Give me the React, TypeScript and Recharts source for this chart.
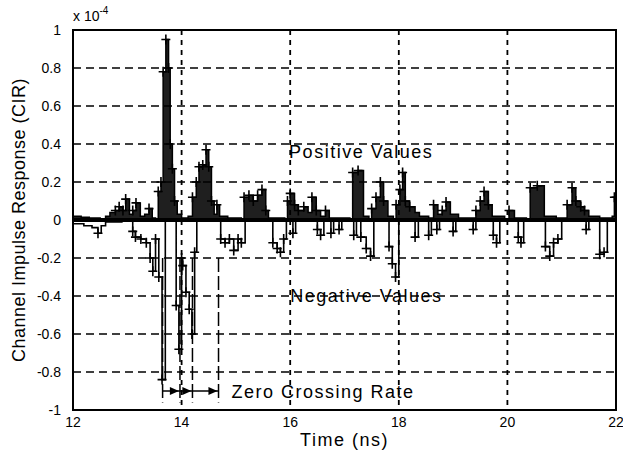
import React from "react";
import {
  ComposedChart,
  Area,
  Line,
  Scatter,
  XAxis,
  YAxis,
  CartesianGrid,
  ReferenceLine,
  ReferenceArea,
  ReferenceDot,
  Label,
} from "recharts";

const FONT = "'Liberation Sans', Arial, sans-serif";

const timeTicks = [12, 14, 16, 18, 20, 22];
const cirTicks = [-1, -0.8, -0.6, -0.4, -0.2, 0, 0.2, 0.4, 0.6, 0.8, 1];

// positive part of the CIR: [time (ns), value (x1e-4)]
const positivePart: [number, number][] = [
  [12.0, 0.02], [12.15, 0.015], [12.3, 0.01], [12.5, 0.005], [12.6, 0.02], [12.68, 0.04],
  [12.78, 0.05], [12.85, 0.07], [12.92, 0.05], [12.97, 0.11], [13.04, 0.03], [13.1, 0.05],
  [13.16, 0.09], [13.24, 0.02], [13.32, 0.03], [13.4, 0.06], [13.46, 0.01], [13.52, 0.0],
  [13.57, 0.15], [13.62, 0.2], [13.66, 0.78], [13.71, 0.95], [13.76, 0.8], [13.79, 0.4],
  [13.83, 0.27], [13.87, 0.1], [13.92, 0.03], [14.0, 0.01], [14.12, 0.02], [14.2, 0.12],
  [14.27, 0.2], [14.32, 0.28], [14.39, 0.29], [14.45, 0.37], [14.5, 0.28], [14.55, 0.1],
  [14.6, 0.03], [14.65, 0.08], [14.7, 0.02], [14.85, 0.01], [15.0, 0.01], [15.1, 0.0],
  [15.15, 0.12], [15.24, 0.13], [15.32, 0.1], [15.4, 0.13], [15.48, 0.16], [15.55, 0.05],
  [15.6, 0.01], [15.9, 0.0], [15.95, 0.1], [16.0, 0.14], [16.08, 0.08], [16.15, 0.05],
  [16.25, 0.07], [16.33, 0.04], [16.4, 0.12], [16.48, 0.05], [16.56, 0.02], [16.65, 0.05],
  [16.72, 0.01], [17.1, 0.0], [17.15, 0.25], [17.25, 0.26], [17.35, 0.02], [17.45, 0.0],
  [17.5, 0.06], [17.58, 0.12], [17.66, 0.2], [17.72, 0.1], [17.8, 0.02], [17.9, 0.0],
  [17.95, 0.08], [18.02, 0.16], [18.07, 0.25], [18.12, 0.1], [18.2, 0.07], [18.3, 0.04],
  [18.38, 0.02], [18.55, 0.01], [18.64, 0.08], [18.72, 0.03], [18.8, 0.05], [18.87, 0.095],
  [18.95, 0.03], [19.1, 0.01], [19.3, 0.01], [19.42, 0.05], [19.5, 0.1], [19.57, 0.15],
  [19.65, 0.08], [19.72, 0.02], [19.95, 0.0], [20.03, 0.05], [20.13, 0.01], [20.35, 0.0],
  [20.42, 0.17], [20.55, 0.18], [20.68, 0.02], [20.9, 0.01], [21.1, 0.08], [21.19, 0.17],
  [21.26, 0.1], [21.35, 0.07], [21.42, 0.05], [21.5, 0.02], [21.7, 0.01], [21.93, 0.02],
  [21.97, 0.12], [22.0, 0.12],
];

// negative part of the CIR
const negativePart: [number, number][] = [
  [12.0, -0.02], [12.2, -0.03], [12.35, -0.04], [12.46, -0.07], [12.52, -0.03], [12.6, -0.01],
  [12.9, 0.0], [13.1, -0.06], [13.15, -0.09], [13.25, -0.1], [13.35, -0.12], [13.42, -0.2],
  [13.47, -0.27], [13.52, -0.1], [13.58, -0.3], [13.64, -0.84], [13.7, 0.0], [13.9, -0.45],
  [13.95, -0.68], [14.0, -0.2], [14.02, -0.24], [14.08, -0.38], [14.14, -0.47], [14.19, -0.6],
  [14.24, -0.17], [14.28, 0.0], [14.72, -0.1], [14.8, -0.12], [14.88, -0.1], [14.96, -0.16],
  [15.04, -0.1], [15.1, -0.12], [15.17, 0.0], [15.68, -0.12], [15.76, -0.15], [15.82, -0.17],
  [15.88, -0.1], [15.93, 0.0], [16.05, -0.07], [16.1, 0.0], [16.5, -0.05], [16.56, -0.08],
  [16.62, 0.0], [16.75, -0.07], [16.8, 0.0], [16.9, -0.05], [16.95, 0.0], [17.17, -0.08],
  [17.22, 0.0], [17.3, -0.09], [17.4, -0.15], [17.48, -0.19], [17.54, 0.0], [17.82, -0.14],
  [17.88, -0.23], [17.94, -0.3], [18.0, 0.0], [18.3, -0.09], [18.36, 0.0], [18.55, -0.08],
  [18.6, 0.0], [18.7, -0.05], [18.75, 0.0], [19.0, -0.06], [19.05, 0.0], [19.37, -0.05],
  [19.42, 0.0], [19.74, -0.08], [19.8, -0.12], [19.86, 0.0], [20.2, -0.09], [20.25, -0.12],
  [20.3, 0.0], [20.7, -0.14], [20.78, -0.19], [20.85, -0.12], [20.93, -0.1], [21.0, 0.0],
  [21.45, -0.05], [21.5, 0.0], [21.7, -0.18], [21.78, -0.17], [21.84, 0.0], [22.0, 0.0],
];

// boundaries of the zero crossing intervals (ns)
const crossingTimes = [13.65, 13.97, 14.2, 14.68];

const posData = positivePart.map(([t, v]) => ({ t, v }));
const negData = negativePart.map(([t, v]) => ({ t, v }));
const markers = [...posData, ...negData].filter((d) => Math.abs(d.v) >= 0.05);

const PlusMark = (props: any) => {
  const { cx, cy } = props;
  if (cx == null || cy == null) return null;
  return (
    <path
      d={`M${cx - 4.5},${cy}H${cx + 4.5}M${cx},${cy - 5}V${cy + 5}`}
      stroke="#000"
      strokeWidth={1.6}
    />
  );
};

const textAt = (value: string) => (p: any) => (
  <text
    x={p.cx}
    y={p.cy}
    dominantBaseline="central"
    fontFamily={FONT}
    fontSize={18}
    letterSpacing={1.5}
    fill="#000"
  >
    {value}
  </text>
);

const arrowHead = (p: any) => (
  <path d={`M${p.cx - 9},${p.cy - 4}L${p.cx},${p.cy}L${p.cx - 9},${p.cy + 4}Z`} fill="#000" />
);

export default function App() {
  return (
    <div style={{ position: "absolute", left: 0, top: 0, width: 623, height: 451, background: "#fff" }}>
      <ComposedChart width={623} height={451} margin={{ top: 30, right: 7, left: 0, bottom: 0 }}>
        <CartesianGrid vertical={false} stroke="#000" strokeWidth={1.5} strokeDasharray="8 5" />
        <CartesianGrid horizontal={false} stroke="#000" strokeWidth={1.8} strokeDasharray="5 5" />
        <XAxis
          type="number"
          dataKey="t"
          domain={[12, 22]}
          ticks={timeTicks}
          allowDataOverflow
          axisLine={false}
          tickLine={false}
          tickSize={0}
          tickMargin={7}
          height={41}
          tick={{ fill: "#000", fontSize: 14, fontFamily: FONT }}
        >
          <Label
            content={({ viewBox }: any) => (
              <text
                x={viewBox.x + viewBox.width / 2}
                y={viewBox.y + 30}
                textAnchor="middle"
                dominantBaseline="central"
                fontFamily={FONT}
                fontSize={18}
                letterSpacing={1.5}
                fill="#000"
              >
                Time (ns)
              </text>
            )}
          />
        </XAxis>
        <YAxis
          type="number"
          domain={[-1, 1]}
          ticks={cirTicks}
          allowDataOverflow
          axisLine={false}
          tickLine={false}
          tickSize={0}
          tickMargin={12}
          width={73}
          tickFormatter={(v: number) => String(v)}
          tick={{ fill: "#000", fontSize: 14, fontFamily: FONT }}
        >
          <Label
            content={({ viewBox }: any) => (
              <g>
                <text
                  transform={`translate(${viewBox.x + 19},${viewBox.y + viewBox.height / 2}) rotate(-90)`}
                  textAnchor="middle"
                  dominantBaseline="central"
                  fontFamily={FONT}
                  fontSize={18}
                  letterSpacing={0.5}
                  fill="#000"
                >
                  Channel Impulse Response (CIR)
                </text>
                <text x={viewBox.x + 73} y={viewBox.y - 9} fontFamily={FONT} fontSize={14} fill="#000">
                  x 10
                  <tspan dy={-7} fontSize={10}>-4</tspan>
                </text>
              </g>
            )}
          />
        </YAxis>

        <Area
          data={posData}
          dataKey="v"
          type="stepAfter"
          stroke="#000"
          strokeWidth={1.5}
          fill="#000"
          fillOpacity={0.88}
          dot={false}
          activeDot={false}
          isAnimationActive={false}
        />
        <Line
          data={negData}
          dataKey="v"
          type="stepAfter"
          stroke="#000"
          strokeWidth={1.6}
          dot={false}
          activeDot={false}
          isAnimationActive={false}
        />
        <Scatter data={markers} dataKey="v" shape={<PlusMark />} isAnimationActive={false} />

        <ReferenceLine y={0} stroke="#000" strokeWidth={4} />
        {crossingTimes.map((t) => (
          <ReferenceLine
            key={t}
            segment={[{ x: t, y: -0.2 }, { x: t, y: -0.96 }]}
            stroke="#000"
            strokeWidth={1.5}
            strokeDasharray="14 4"
          />
        ))}
        <ReferenceLine
          segment={[{ x: crossingTimes[0], y: -0.9 }, { x: crossingTimes[3], y: -0.9 }]}
          stroke="#000"
          strokeWidth={1.5}
        />
        {crossingTimes.slice(1).map((t) => (
          <ReferenceDot key={`a${t}`} x={t - 0.02} y={-0.9} shape={arrowHead} />
        ))}

        <ReferenceDot x={15.98} y={0.36} shape={textAt("Positive Values")} />
        <ReferenceDot x={16.0} y={-0.4} shape={textAt("Negative Values")} />
        <ReferenceDot x={14.92} y={-0.905} shape={textAt("Zero Crossing Rate")} />

        <ReferenceArea x1={12} x2={22} y1={-1} y2={1} fill="none" fillOpacity={0} stroke="#000" strokeWidth={2} />
      </ComposedChart>
    </div>
  );
}
